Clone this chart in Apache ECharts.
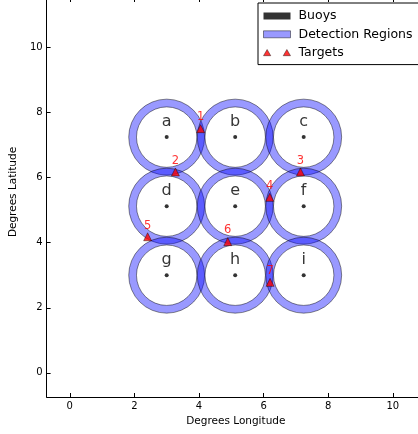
<!DOCTYPE html>
<html>
<head>
<meta charset="utf-8">
<script src="https://cdn.jsdelivr.net/npm/echarts@6/dist/echarts.min.js"></script>
<style>
html,body{margin:0;padding:0;background:#fff;}
#chart{width:418px;height:434px;}
</style>
</head>
<body>
<div id="chart"></div>
<script>
// ---- data ----
const buoyNames = ['a','b','c','d','e','f','g','h','i'];
const buoyLon = [3.00, 5.12, 7.24, 3.00, 5.12, 7.24, 3.00, 5.12, 7.24];
const buoyLat = [7.24, 7.24, 7.24, 5.12, 5.12, 5.12, 3.00, 3.00, 3.00];
const detectInner = 0.935;   // detection ring inner radius (degrees)
const detectOuter = 1.175;   // detection ring outer radius (degrees)
const targetIds = ['1','2','3','4','5','6','7'];
const targetLon = [4.05, 3.27, 7.14, 6.19, 2.41, 4.89, 6.20];
const targetLat = [7.50, 6.17, 6.17, 5.39, 4.18, 4.03, 2.78];
const xTickLabels = [0, 2, 4, 6, 8, 10];
const yTickLabels = [0, 2, 4, 6, 8, 10];
const xRange = [-0.716, 10.778];
const yRange = [-0.74, 11.45];

const FONT = 'DejaVu Sans';
const buoyData = buoyNames.map((n, i) => ({name: n, value: [buoyLon[i], buoyLat[i]]}));
const targetData = targetIds.map((n, i) => ({name: n, value: [targetLon[i], targetLat[i]]}));
const ringData = buoyNames.map((n, i) => [buoyLon[i], buoyLat[i]]);

function tickFmt(list) {
  return function (v) {
    for (const t of list) { if (Math.abs(v - t) < 1e-9) return String(t); }
    return '';
  };
}

const axisCommon = {
  type: 'value',
  splitLine: {show: false},
  axisLine: {show: true, onZero: false, lineStyle: {color: '#000', width: 1}},
  axisTick: {show: true, inside: true, length: 4, lineStyle: {color: '#000', width: 1}},
};

const chart = echarts.init(document.getElementById('chart'), null, {renderer: 'canvas'});
chart.setOption({
  animation: false,
  backgroundColor: '#fff',
  textStyle: {fontFamily: FONT},
  grid: {left: 44, right: 0, top: 0, bottom: 37, containLabel: false},
  xAxis: [
    Object.assign({}, axisCommon, {
      position: 'bottom', min: xRange[0], max: xRange[1],
      name: 'Degrees Longitude', nameLocation: 'middle', nameGap: 18,
      nameTextStyle: {fontFamily: FONT, fontSize: 10.5, color: '#000', padding: [0, 0, 0, 7]},
      axisLabel: {margin: 4, fontFamily: FONT, fontSize: 10, color: '#000',
        formatter: tickFmt(xTickLabels), showMinLabel: false, showMaxLabel: false}
    }),
    Object.assign({}, axisCommon, {
      position: 'top', min: xRange[0], max: xRange[1],
      axisLine: {show: false, onZero: false},
      axisTick: {show: true, inside: true, length: 2, lineStyle: {color: '#000', width: 1}},
      axisLabel: {show: false}
    })
  ],
  yAxis: [
    Object.assign({}, axisCommon, {
      position: 'left', min: yRange[0], max: yRange[1],
      name: 'Degrees Latitude', nameLocation: 'middle', nameGap: 19, nameRotate: 90,
      nameTextStyle: {fontFamily: FONT, fontSize: 10.5, color: '#000', padding: [0, 0, 0, 13]},
      axisLabel: {margin: 4, fontFamily: FONT, fontSize: 10, color: '#000',
        formatter: tickFmt(yTickLabels), showMinLabel: false, showMaxLabel: false}
    })
  ],
  legend: {
    orient: 'vertical',
    left: 258, top: 3,
    padding: [6, 10, 5, 5],
    itemGap: 4.3,
    itemWidth: 27, itemHeight: 7,
    borderColor: '#000', borderWidth: 1, borderRadius: 0,
    backgroundColor: '#fff',
    selectedMode: false,
    textStyle: {fontFamily: FONT, fontSize: 12.5, color: '#000', lineHeight: 14, padding: [0, 0, 0, 3]},
    data: [
      {name: 'Buoys', icon: 'rect', itemStyle: {color: '#000', borderWidth: 0}},
      {name: 'Detection Regions', icon: 'rect',
        itemStyle: {color: 'rgba(0,0,255,0.4)', borderColor: 'rgba(0,0,0,0.45)', borderWidth: 1}},
      {name: 'Targets', icon: 'path://M0,6L3.5,0L7,6Z M19,6L22.5,0L26,6Z',
        itemStyle: {color: '#ff0000', borderColor: '#000', borderWidth: 0.5}}
    ]
  },
  series: [
    {
      name: 'Detection Regions',
      type: 'custom',
      xAxisIndex: 0, yAxisIndex: 0,
      itemStyle: {color: 'rgba(0,0,255,0.4)'},
      encode: {x: 0, y: 1},
      data: ringData,
      z: 2,
      renderItem: function (params, api) {
        const c = api.coord([api.value(0), api.value(1)]);
        const rO = api.size([detectOuter, 0])[0];
        const rI = api.size([detectInner, 0])[0];
        return {
          type: 'ring',
          shape: {cx: c[0], cy: c[1], r: rO, r0: rI},
          style: {fill: 'rgba(0,0,255,0.4)', stroke: 'rgba(0,0,0,0.45)', lineWidth: 1}
        };
      }
    },
    {
      name: 'Buoys',
      type: 'scatter',
      xAxisIndex: 0, yAxisIndex: 0,
      symbol: 'circle', symbolSize: 4,
      itemStyle: {color: '#000'},
      z: 3,
      label: {show: true, position: 'top', distance: 5, formatter: '{b}',
        fontFamily: FONT, fontSize: 16, color: '#000'},
      data: buoyData
    },
    {
      name: 'Targets',
      type: 'scatter',
      xAxisIndex: 0, yAxisIndex: 0,
      symbol: 'triangle', symbolSize: 8,
      itemStyle: {color: '#ff0000', borderColor: '#000', borderWidth: 0.5},
      z: 4,
      label: {show: true, position: 'top', distance: 1, formatter: '{b}',
        fontFamily: FONT, fontSize: 11.5, color: '#ff0000'},
      data: targetData
    }
  ]
});
</script>
</body>
</html>
